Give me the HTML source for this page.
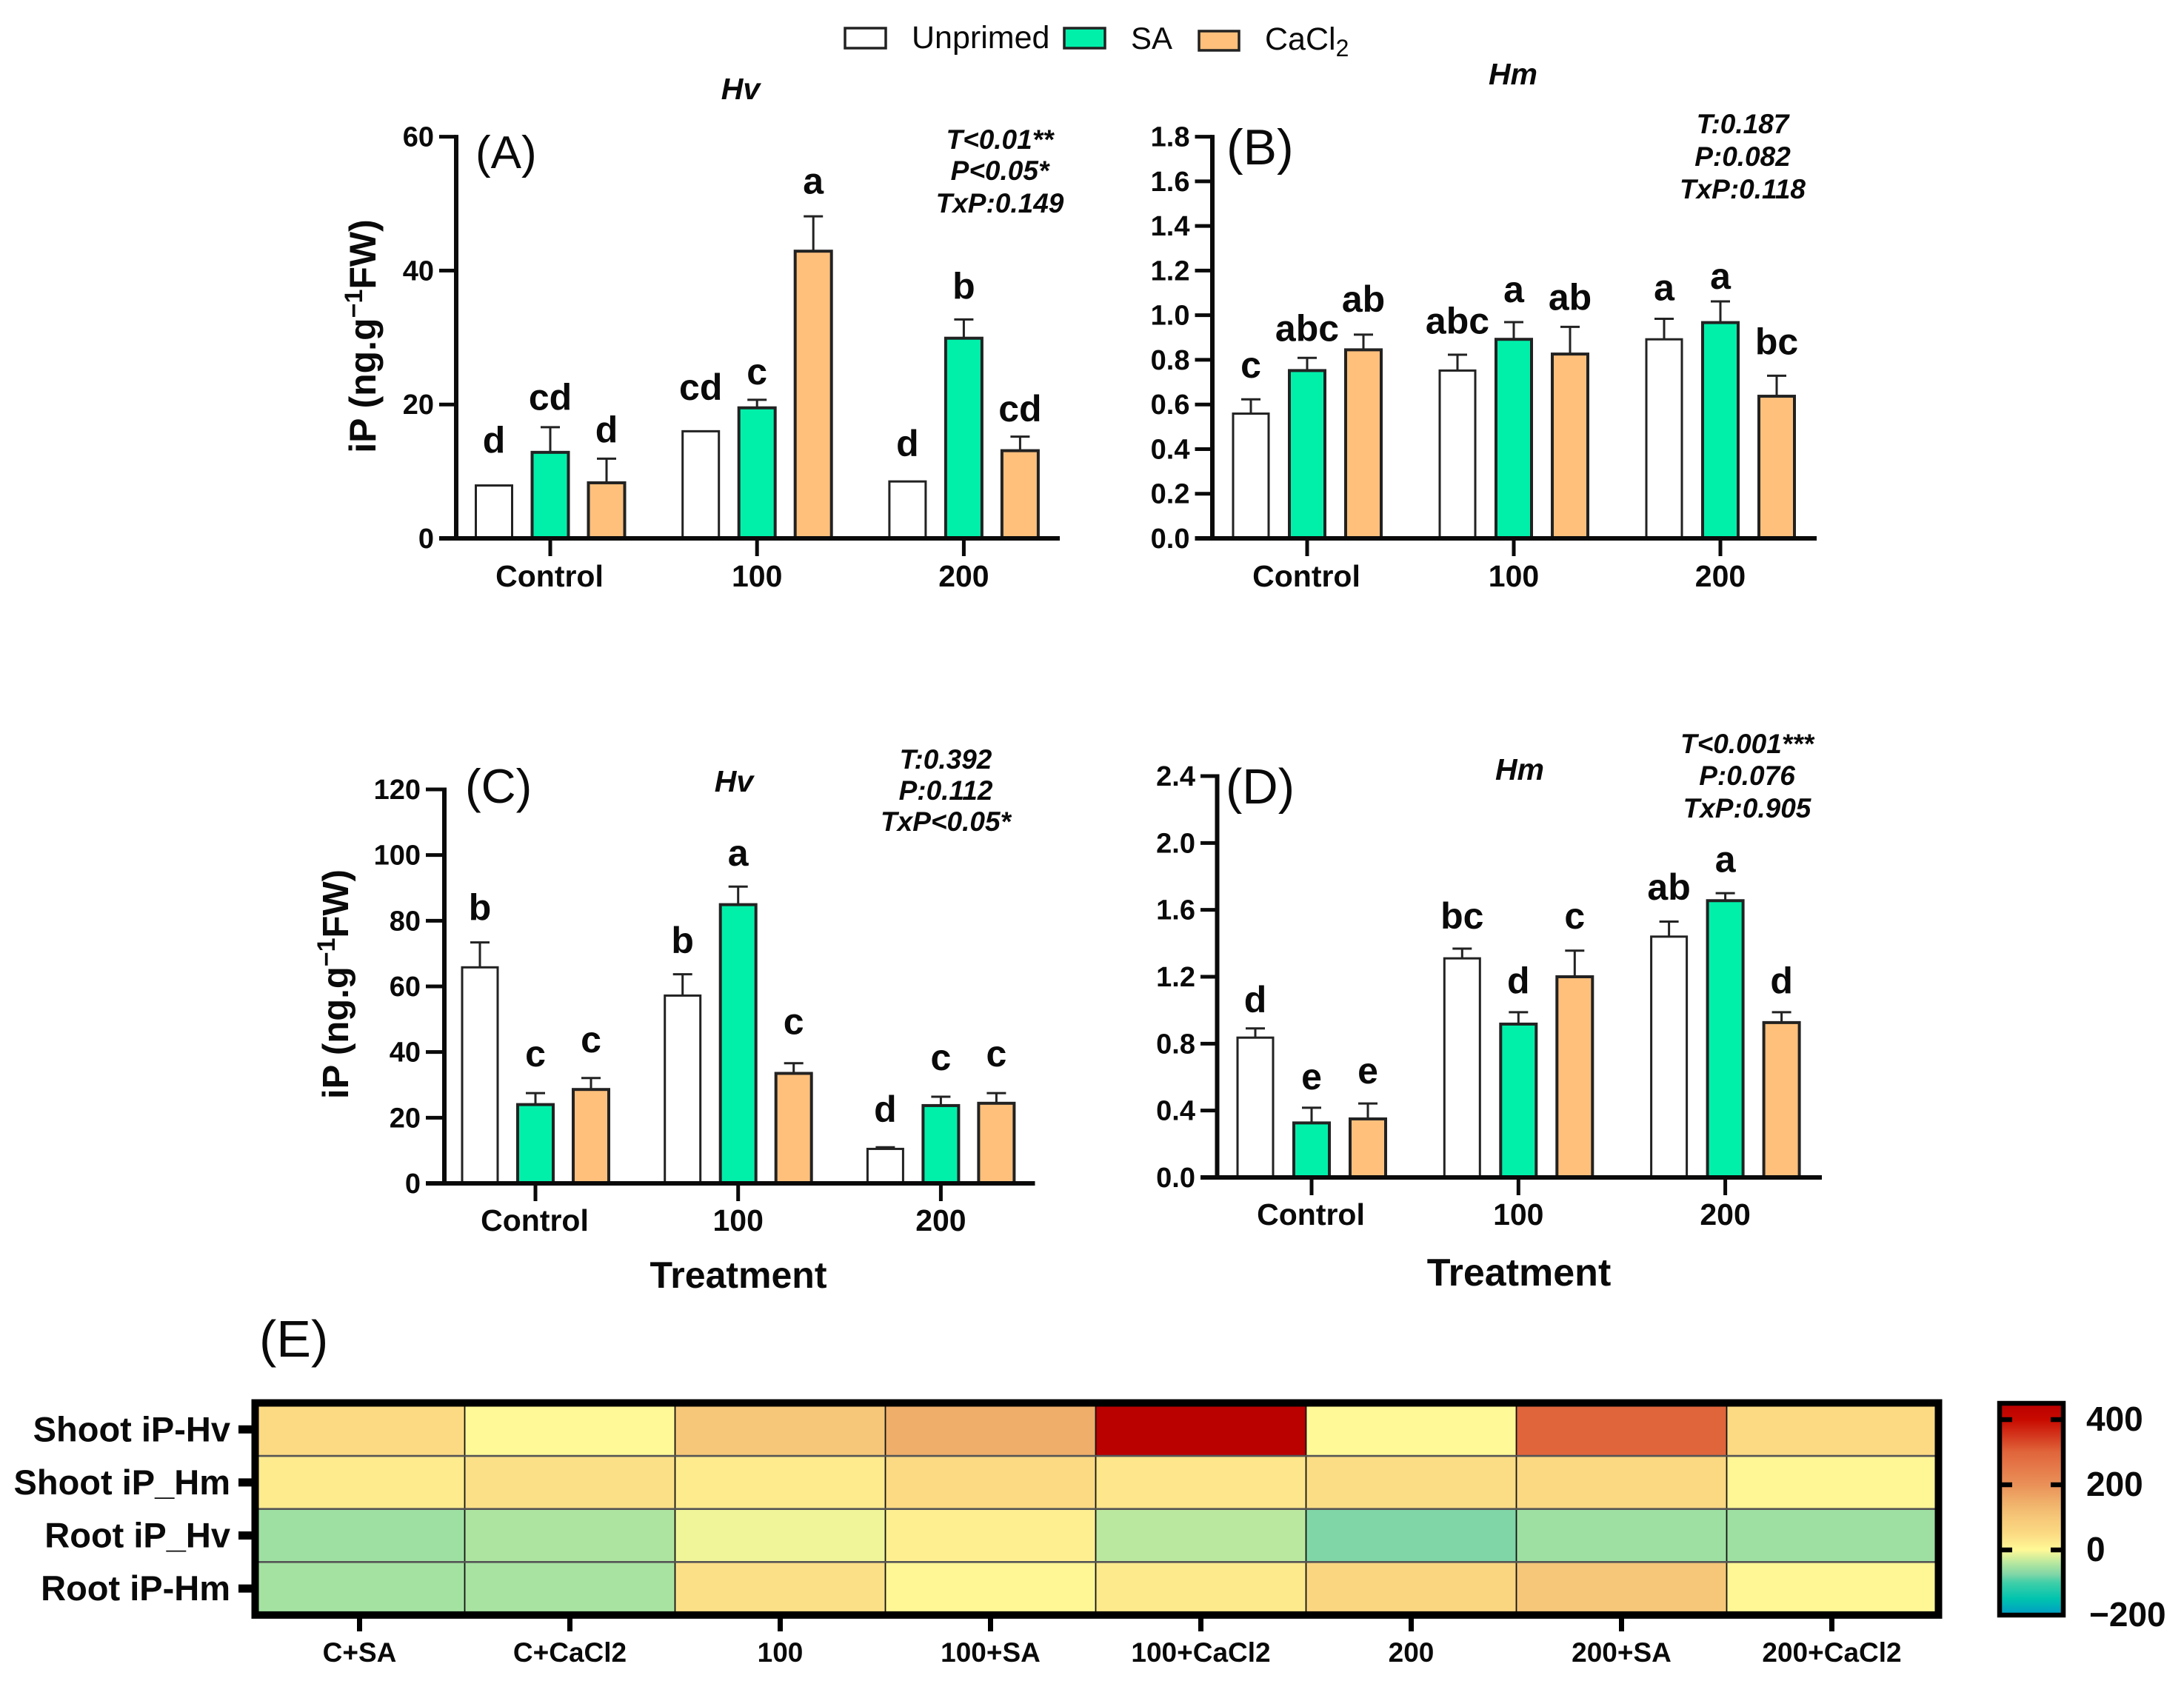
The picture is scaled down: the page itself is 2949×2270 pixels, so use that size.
<!DOCTYPE html>
<html lang="en">
<head>
<meta charset="utf-8">
<title>iP concentration bar charts and heatmap</title>
<style>
  html,body{margin:0;padding:0;background:#fff;}
  svg{display:block;}
  text{font-family:"Liberation Sans",Arial,sans-serif;fill:#0a0a0a;}
</style>
</head>
<body>
<svg id="figure" xmlns="http://www.w3.org/2000/svg" width="2949" height="2270" viewBox="0 0 2949 2270">
  <rect x="0" y="0" width="2949" height="2270" fill="#ffffff"/>

  <g>
    <rect x="1141" y="38" width="55" height="27" fill="#ffffff" stroke="#222" stroke-width="3.5"/>
    <text x="1231" y="65" font-size="43">Unprimed</text>
    <rect x="1437" y="38" width="55" height="27" fill="#00f0aa" stroke="#222" stroke-width="3.5"/>
    <text x="1527" y="66" font-size="42">SA</text>
    <rect x="1619" y="42" width="54" height="26" fill="#ffc07c" stroke="#222" stroke-width="3.5"/>
    <text x="1708" y="67" font-size="43">CaCl<tspan font-size="32" dy="9">2</tspan></text>
  </g>

  <g font-weight="bold" font-style="italic" font-size="41" text-anchor="middle">
    <text x="1000" y="134">Hv</text>
    <text x="2043" y="114">Hm</text>
    <text x="991" y="1069">Hv</text>
    <text x="2052" y="1053">Hm</text>
  </g>

  <g>
    <text x="642" y="227" font-size="62">(A)</text>
    <text x="1656" y="222" font-size="68">(B)</text>
    <text x="628" y="1084" font-size="65">(C)</text>
    <text x="1655" y="1085" font-size="67">(D)</text>
    <text x="350" y="1832" font-size="70">(E)</text>
  </g>

  <g font-weight="bold" font-style="italic" font-size="37" text-anchor="middle">
    <text x="1350" y="201">T&lt;0.01**</text>
    <text x="1350" y="243">P&lt;0.05*</text>
    <text x="1350" y="287">TxP:0.149</text>
    <text x="2353" y="180">T:0.187</text>
    <text x="2353" y="224">P:0.082</text>
    <text x="2353" y="268">TxP:0.118</text>
    <text x="1277" y="1038">T:0.392</text>
    <text x="1277" y="1080">P:0.112</text>
    <text x="1277" y="1122">TxP&lt;0.05*</text>
    <text x="2359" y="1017">T&lt;0.001***</text>
    <text x="2359" y="1060">P:0.076</text>
    <text x="2359" y="1104">TxP:0.905</text>
  </g>

  <g font-weight="bold">
    <text transform="translate(507 454) rotate(-90)" text-anchor="middle" font-size="50">iP (ng.g<tspan font-size="34" dy="-18">−1</tspan><tspan dy="18">FW)</tspan></text>
    <text transform="translate(470 1329) rotate(-90)" text-anchor="middle" font-size="49">iP (ng.g<tspan font-size="34" dy="-18">−1</tspan><tspan dy="18">FW)</tspan></text>
    <text x="997" y="1739" text-anchor="middle" font-size="50">Treatment</text>
    <text x="2051" y="1736" text-anchor="middle" font-size="52">Treatment</text>
  </g>

  <g id="charts"></g>
  <g id="heatmap"></g>
  <g id="colorbar"></g>
  <defs id="defs"></defs>
</svg>

<script>
// ---- Shared chart categories ----
var doseCategories = ['Control', '100', '200'];
var seriesNames = ['Unprimed', 'SA', 'CaCl2'];

// ---- Panel A ----
var aTicks = ['0', '20', '40', '60'];
var aUnprimed = [7.9, 16.0, 8.5];
var aSA = [12.85, 19.5, 29.9];
var aCaCl2 = [8.3, 42.9, 13.1];
var aUnprimedErr = [0, 0, 0];
var aSAErr = [3.75, 1.2, 2.8];
var aCaCl2Err = [3.6, 5.2, 2.1];
var aLetters = ['d', 'cd', 'd', 'cd', 'c', 'a', 'd', 'b', 'cd'];
var aLetterRaise = [4.9, 2.6, 2.4, 4.7, 2.3, 3.4, 3.8, 3.1, 2.3];

// ---- Panel B ----
var bTicks = ['0.0', '0.2', '0.4', '0.6', '0.8', '1.0', '1.2', '1.4', '1.6', '1.8'];
var bUnprimed = [0.559, 0.752, 0.892];
var bSA = [0.752, 0.892, 0.967];
var bCaCl2 = [0.845, 0.826, 0.637];
var bUnprimedErr = [0.064, 0.071, 0.092];
var bSAErr = [0.057, 0.077, 0.095];
var bCaCl2Err = [0.068, 0.122, 0.092];
var bLetters = ['c', 'abc', 'ab', 'abc', 'a', 'ab', 'a', 'a', 'bc'];
var bLetterRaise = [0.097, 0.076, 0.102, 0.094, 0.09, 0.076, 0.083, 0.057, 0.095];

// ---- Panel C ----
var cTicks = ['0', '20', '40', '60', '80', '100', '120'];
var cUnprimed = [65.8, 57.2, 10.5];
var cSA = [24.0, 84.9, 23.7];
var cCaCl2 = [28.6, 33.5, 24.4];
var cUnprimedErr = [7.6, 6.5, 0.5];
var cSAErr = [3.5, 5.5, 2.7];
var cCaCl2Err = [3.5, 3.1, 3.1];
var cLetters = ['b', 'c', 'c', 'b', 'a', 'c', 'd', 'c', 'c'];
var cLetterRaise = [6.8, 8.1, 7.8, 6.5, 6.4, 8.8, 7.7, 8.1, 8.1];

// ---- Panel D ----
var dTicks = ['0.0', '0.4', '0.8', '1.2', '1.6', '2.0', '2.4'];
var dUnprimed = [0.836, 1.31, 1.44];
var dSA = [0.326, 0.917, 1.655];
var dCaCl2 = [0.35, 1.2, 0.926];
var dUnprimedErr = [0.055, 0.058, 0.09];
var dSAErr = [0.091, 0.071, 0.045];
var dCaCl2Err = [0.092, 0.156, 0.062];
var dLetters = ['d', 'e', 'e', 'bc', 'd', 'c', 'ab', 'a', 'd'];
var dLetterRaise = [0.097, 0.109, 0.12, 0.12, 0.113, 0.132, 0.13, 0.127, 0.113];

// ---- Panel E heatmap ----
var heatColumns = ['C+SA', 'C+CaCl2', '100', '100+SA', '100+CaCl2', '200', '200+SA', '200+CaCl2'];
var heatRows = ['Shoot iP-Hv', 'Shoot iP_Hm', 'Root iP_Hv', 'Root iP-Hm'];
var heatShootHv = [50, 0, 100, 150, 445, 0, 300, 50];
var heatShootHm = [22, 40, 22, 50, 30, 45, 55, 5];
var heatRootHv = [-55, -46, -8, 15, -38, -75, -55, -55];
var heatRootHm = [-51, -49, 40, 3, 25, 60, 100, 4];
var scaleValues = [-200, -150, -100, -75, -50, 0, 50, 100, 150, 200, 300, 400, 445];
var scaleColors = ['#00a2c0', '#00c4ae', '#40cfa8', '#80d6a7', '#a6e3a1', '#fff997', '#fbda83', '#f6c778', '#efae69', '#ea9058', '#e0653b', '#c80a00', '#bb0000'];
var colorbarTicks = ['-200', '0', '200', '400'];

var SVGNS = 'http://www.w3.org/2000/svg';
var INK = '#0a0a0a';

function make(parent, tag, attrs, text) {
  var el = document.createElementNS(SVGNS, tag);
  for (var k in attrs) { el.setAttribute(k, attrs[k]); }
  if (text !== undefined) { el.textContent = text; }
  parent.appendChild(el);
  return el;
}

function drawBarPanel(cfg) {
  var root = document.getElementById('charts');
  var g = make(root, 'g', {});
  
  

  var tickNums = cfg.ticks.map(Number);
  var maxTick = tickNums[tickNums.length - 1];
  function yScale(v) { return cfg.y0 - (v / maxTick) * (cfg.y0 - cfg.yTop); }
  function groupX(i) { return cfg.groupX0 + i * cfg.groupStep; }
  function barX(i, s) { return groupX(i) + (s - 1) * cfg.barStep; }

  var fills = ['#ffffff', '#00f0aa', '#ffc07c'];
  var strokes = [3, 4, 4];
  var seriesKeys = ['unprimed', 'sa', 'cacl2'];

  doseCategories.forEach(function (cat, i) {
    cfg.series.forEach(function (vals, s) {
      var v = vals[i];
      var top = yScale(v);
      var errTop = yScale(v + cfg.errors[s][i]);
      var cx = barX(i, s);
      var label = cfg.id + '-' + seriesKeys[s] + '-' + i;
      if (cfg.errors[s][i] > 0) {
        var stem = make(g, 'line', { x1: cx, x2: cx, y1: top, y2: errTop, stroke: '#222', 'stroke-width': 3 });
        
        
        var cap = make(g, 'line', { x1: cx - 13, x2: cx + 13, y1: errTop, y2: errTop, stroke: '#222', 'stroke-width': 3 });
        
        
      }
      var bar = make(g, 'rect', { x: cx - cfg.barW / 2, y: top, width: cfg.barW, height: cfg.y0 - top, fill: fills[s], stroke: '#222', 'stroke-width': strokes[s] });
      
      
      var idx = i * 3 + s;
      var letterBase = yScale(v + cfg.errors[s][i] + cfg.raise[idx]);
      var letter = make(g, 'text', { x: cx, y: letterBase, 'text-anchor': 'middle', 'font-size': 50, 'font-weight': 'bold' }, cfg.letters[idx]);
      
      
    });

    var tick = make(g, 'line', { x1: groupX(i), x2: groupX(i), y1: cfg.y0, y2: cfg.y0 + 24, stroke: INK, 'stroke-width': 5 });
    
    
    var tl = make(g, 'text', { x: groupX(i) - (i === 0 ? 1 : 0), y: cfg.catBase, 'text-anchor': 'middle', 'font-size': 41, 'font-weight': 'bold' }, cat);
    
    
  });

  var yAxis = make(g, 'line', { x1: cfg.axisX, x2: cfg.axisX, y1: cfg.yTop - 2.5, y2: cfg.y0 + 2.5, stroke: INK, 'stroke-width': 6 });
  
  
  var xAxis = make(g, 'line', { x1: cfg.xStart, x2: cfg.xEnd, y1: cfg.y0, y2: cfg.y0, stroke: INK, 'stroke-width': 6 });
  
  

  cfg.ticks.forEach(function (t, k) {
    var y = yScale(tickNums[k]);
    var yt = make(g, 'line', { x1: cfg.xStart, x2: cfg.axisX, y1: y, y2: y, stroke: INK, 'stroke-width': 5 });
    
    
    var yl = make(g, 'text', { x: cfg.xStart - 7, y: y + 13, 'text-anchor': 'end', 'font-size': 38, 'font-weight': 'bold' }, t);
    
    
  });
}

drawBarPanel({ id: 'a', ticks: aTicks, series: [aUnprimed, aSA, aCaCl2], errors: [aUnprimedErr, aSAErr, aCaCl2Err], letters: aLetters, raise: aLetterRaise,
  axisX: 616, xStart: 593, xEnd: 1431, y0: 727, yTop: 184.6, groupX0: 743, groupStep: 279.2, barStep: 76, barW: 49, catBase: 792 });
drawBarPanel({ id: 'b', ticks: bTicks, series: [bUnprimed, bSA, bCaCl2], errors: [bUnprimedErr, bSAErr, bCaCl2Err], letters: bLetters, raise: bLetterRaise,
  axisX: 1637, xStart: 1613.5, xEnd: 2453, y0: 727, yTop: 184.6, groupX0: 1765, groupStep: 279, barStep: 76, barW: 48, catBase: 792 });
drawBarPanel({ id: 'c', ticks: cTicks, series: [cUnprimed, cSA, cCaCl2], errors: [cUnprimedErr, cSAErr, cCaCl2Err], letters: cLetters, raise: cLetterRaise,
  axisX: 600, xStart: 575, xEnd: 1397.5, y0: 1598, yTop: 1066, groupX0: 723, groupStep: 273.7, barStep: 75, barW: 48, catBase: 1662 });
drawBarPanel({ id: 'd', ticks: dTicks, series: [dUnprimed, dSA, dCaCl2], errors: [dUnprimedErr, dSAErr, dCaCl2Err], letters: dLetters, raise: dLetterRaise,
  axisX: 1643.5, xStart: 1621, xEnd: 2460, y0: 1590, yTop: 1048, groupX0: 1771, groupStep: 279.3, barStep: 76, barW: 48, catBase: 1654 });

// ---- Colour scale helpers ----
function hexToRgb(h) {
  return [parseInt(h.substr(1, 2), 16), parseInt(h.substr(3, 2), 16), parseInt(h.substr(5, 2), 16)];
}
function colorFor(v) {
  if (v <= scaleValues[0]) { return scaleColors[0]; }
  for (var i = 1; i < scaleValues.length; i++) {
    if (v <= scaleValues[i]) {
      var t = (v - scaleValues[i - 1]) / (scaleValues[i] - scaleValues[i - 1]);
      var a = hexToRgb(scaleColors[i - 1]);
      var b = hexToRgb(scaleColors[i]);
      return 'rgb(' + Math.round(a[0] + (b[0] - a[0]) * t) + ',' + Math.round(a[1] + (b[1] - a[1]) * t) + ',' + Math.round(a[2] + (b[2] - a[2]) * t) + ')';
    }
  }
  return scaleColors[scaleColors.length - 1];
}

// ---- Heatmap ----
(function () {
  var g = document.getElementById('heatmap');
  var matrix = [heatShootHv, heatShootHm, heatRootHv, heatRootHm];
  var x0 = 343.5, y0 = 1894.5, cw = 284, rh = 71.6;
  function colX(c) { return x0 + c * cw; }
  function rowY(r) { return y0 + r * rh; }

  matrix.forEach(function (row, r) {
    row.forEach(function (v, c) {
      var cell = make(g, 'rect', { x: colX(c), y: rowY(r), width: cw, height: rh, fill: colorFor(v) });
      
      
    });
  });
  for (var c = 1; c < heatColumns.length; c++) {
    var vl = make(g, 'line', { x1: colX(c), x2: colX(c), y1: y0, y2: rowY(heatRows.length), stroke: '#111', 'stroke-width': 1.8 });
    
    
  }
  for (var r = 1; r < heatRows.length; r++) {
    var hl = make(g, 'line', { x1: x0, x2: colX(heatColumns.length), y1: rowY(r), y2: rowY(r), stroke: '#555', 'stroke-width': 2.6 });
    
    
  }
  var frame = make(g, 'rect', { x: x0 + 1, y: y0, width: cw * heatColumns.length + 1, height: rh * heatRows.length, fill: 'none', stroke: '#000', 'stroke-width': 10 });
  
  

  heatRows.forEach(function (name, r) {
    var cy = rowY(r) + rh / 2;
    var t = make(g, 'line', { x1: 322, x2: 340, y1: cy, y2: cy, stroke: '#000', 'stroke-width': 11 });
    
    
    var l = make(g, 'text', { x: 311, y: cy + 16, 'text-anchor': 'end', 'font-size': 47, 'font-weight': 'bold' }, name);
    
    
  });
  heatColumns.forEach(function (name, c) {
    var cx = colX(c) + cw / 2;
    var t = make(g, 'line', { x1: cx, x2: cx, y1: 2185, y2: 2203, stroke: '#000', 'stroke-width': 7 });
    
    
    var l = make(g, 'text', { x: cx, y: 2244, 'text-anchor': 'middle', 'font-size': 37, 'font-weight': 'bold' }, name);
    
    
  });
})();

// ---- Colour bar ----
(function () {
  var g = document.getElementById('colorbar');
  var defs = document.getElementById('defs');
  var yTop = 1898, yBot = 2177;
  var pxPerUnit = 88 / 200;
  var zeroY = 2093;
  function yOf(v) { return zeroY - v * pxPerUnit; }
  var grad = make(defs, 'linearGradient', { id: 'colorbar-gradient', x1: 0, y1: yTop, x2: 0, y2: yBot, gradientUnits: 'userSpaceOnUse' });
  // Stops must run top to bottom, so walk the scale from its highest value down.
  for (var i = scaleValues.length - 1; i >= 0; i--) {
    var off = (yOf(scaleValues[i]) - yTop) / (yBot - yTop);
    make(grad, 'stop', { offset: Math.max(0, Math.min(1, off)), 'stop-color': scaleColors[i] });
  }
  var bar = make(g, 'rect', { x: 2700, y: 1895, width: 86, height: 286, fill: 'url(#colorbar-gradient)', stroke: '#000', 'stroke-width': 6.5 });
  
  
  colorbarTicks.forEach(function (t) {
    var v = Number(t);
    var y = yOf(v);
    if (v > -200) {
      var lt = make(g, 'line', { x1: 2703, x2: 2717, y1: y, y2: y, stroke: '#000', 'stroke-width': 6.5 });
      
      
      var rt = make(g, 'line', { x1: 2769, x2: 2783, y1: y, y2: y, stroke: '#000', 'stroke-width': 6.5 });
      
      
    }
    var l = make(g, 'text', { x: v < 0 ? 2821 : 2817, y: y + 15, 'font-size': 46, 'font-weight': 'bold' }, t.replace('-', '\u2212'));
    
    
  });
})();
</script>
</body>
</html>
